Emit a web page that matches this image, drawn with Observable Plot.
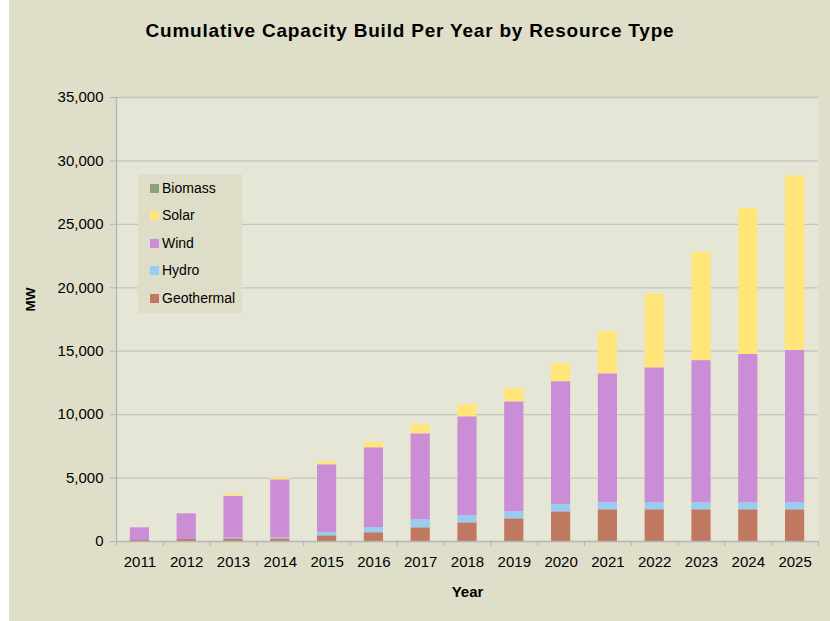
<!DOCTYPE html>
<html>
<head>
<meta charset="utf-8">
<script src="https://cdn.jsdelivr.net/npm/d3@7"></script>
<script src="https://cdn.jsdelivr.net/npm/@observablehq/plot@0.6"></script>
<style>
  html, body { margin: 0; padding: 0; background: #ffffff; }
  #wrap { position: relative; margin-left: 9px; width: 821px; height: 621px; background: #dfdec9; overflow: hidden; font-family: Arial, "Liberation Sans", sans-serif; }
  #title { position: absolute; left: 0; top: 20px; width: 802px; text-align: center; font-weight: bold; font-size: 19px; letter-spacing: 0.8px; color: #000; }
  #chart { position: absolute; left: -9px; top: 60px; }
  #legend { position: absolute; left: 129px; top: 174px; width: 104px; height: 139px; background: #dedec8; font-size: 14px; color: #000; }
  .li { position: absolute; left: 12px; height: 14px; line-height: 14px; white-space: nowrap; }
  .sw { display: inline-block; width: 9px; height: 9px; margin-right: 3px; }
</style>
</head>
<body>
<div id="wrap">
  <div id="title">Cumulative Capacity Build Per Year by Resource Type</div>
  <div id="chart"></div>
  <div id="legend"></div>
</div>
<script>
const years = ["2011","2012","2013","2014","2015","2016","2017","2018","2019","2020","2021","2022","2023","2024","2025"];
const geothermal = [80, 180, 200, 200, 450, 690, 1080, 1470, 1790, 2340, 2500, 2500, 2500, 2500, 2500];
const hydro      = [0, 0, 60, 70, 260, 410, 630, 560, 550, 580, 550, 550, 550, 550, 550];
const wind       = [1000, 2000, 3290, 4590, 5340, 6290, 6780, 7800, 8670, 9680, 10170, 10640, 11210, 11690, 12010];
const solar      = [0, 0, 150, 160, 230, 440, 710, 950, 1050, 1410, 3310, 5810, 8520, 11510, 13770];
const biomass    = [0, 0, 0, 0, 0, 0, 0, 0, 0, 0, 0, 0, 0, 0, 0];
const yTicks = [0, 5000, 10000, 15000, 20000, 25000, 30000, 35000];

const types = ["Geothermal", "Hydro", "Wind", "Solar", "Biomass"];
const colors = ["#c07860", "#99ccf3", "#cb8dd6", "#ffe57a", "#8aa276"];
const series = {Geothermal: geothermal, Hydro: hydro, Wind: wind, Solar: solar, Biomass: biomass};

const data = [];
years.forEach((y, i) => {
  types.forEach(t => data.push({year: y, type: t, value: series[t][i]}));
});

const W = 830, H = 561;
const mL = 116, mR = 12, mT = 37, mB = 80;
const step = (W - mL - mR) / years.length;

const chart = Plot.plot({
  width: W,
  height: H,
  marginLeft: mL,
  marginRight: mR,
  marginTop: mT,
  marginBottom: mB,
  style: {background: "transparent", fontFamily: "Arial, 'Liberation Sans', sans-serif", overflow: "visible"},
  x: {domain: years, paddingInner: 0.59, paddingOuter: 0.295, round: false, label: null},
  y: {domain: [0, 35000], label: null},
  color: {domain: types, range: colors},
  marks: [
    Plot.frame({fill: "#e6e6d6", stroke: null}),
    Plot.ruleY(yTicks.filter(d => d > 0), {stroke: "#c4c4c0", strokeWidth: 1.3}),
    Plot.barY(data, {x: "year", y: "value", fill: "type", order: types}),
    Plot.ruleX([0], {x: () => years[0], dx: -step / 2, stroke: "#b4b4b4", strokeWidth: 1.3}),
    Plot.ruleY([0], {stroke: "#b4b4b4", strokeWidth: 1.3}),
    Plot.axisY({ticks: yTicks, tickFormat: d3.format(","), tickSize: 6, tickPadding: 7, fontSize: 15, stroke: "#b4b4b4", label: null, color: "#000"}),
    Plot.axisX({tickSize: 0, tickPadding: 15, fontSize: 15, label: null, color: "#000"}),
    Plot.axisX({tickSize: 5, tickFormat: () => "", dx: -step / 2, stroke: "#b4b4b4", label: null}),
    Plot.axisX({ticks: [years[years.length - 1]], tickSize: 5, tickFormat: () => "", dx: step / 2, stroke: "#b4b4b4", label: null}),
    Plot.text(["MW"], {frameAnchor: "left", rotate: -90, dx: -86, dy: -8, fontWeight: "bold", fontSize: 13.5, fill: "#000"}),
    Plot.text(["Year"], {frameAnchor: "bottom", dy: 55, fontWeight: "bold", fontSize: 15, fill: "#000"})
  ]
});
document.getElementById("chart").appendChild(chart);

const legendItems = ["Biomass", "Solar", "Wind", "Hydro", "Geothermal"];
const legend = document.getElementById("legend");
legendItems.forEach((t, i) => {
  const div = document.createElement("div");
  div.className = "li";
  div.style.top = (7 + i * 27.4) + "px";
  const c = colors[types.indexOf(t)];
  div.innerHTML = `<span class="sw" style="background:${c}"></span>${t}`;
  legend.appendChild(div);
});
</script>
</body>
</html>
